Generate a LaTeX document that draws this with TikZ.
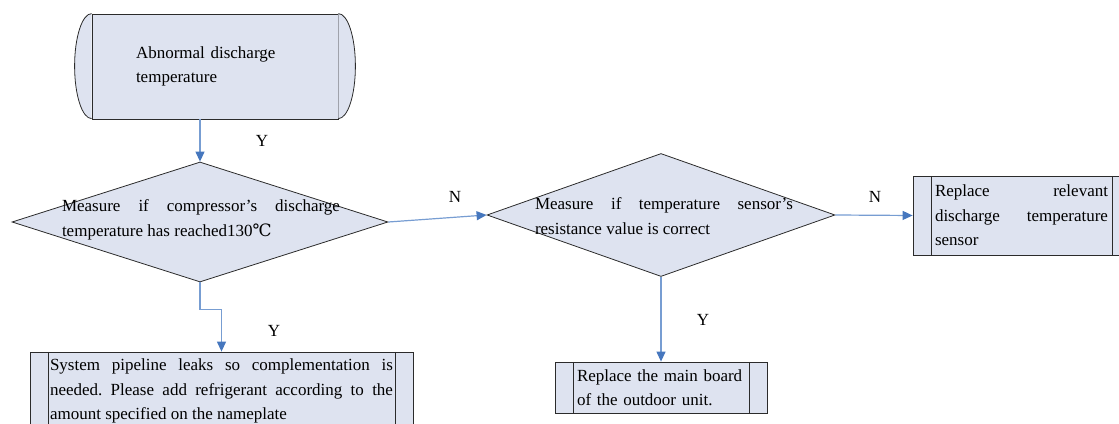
\documentclass[tikz,border=0pt]{standalone}
\usepackage{fontspec}
\setmainfont{Liberation Serif}
\newfontfamily\degfont{DejaVu Serif}
\usepackage{tikz}
\usetikzlibrary{arrows.meta,shapes.geometric}
\definecolor{boxfill}{HTML}{DEE3F0}
\definecolor{edgegray}{HTML}{2B2B2B}
\definecolor{flowline}{HTML}{779DD2}
\definecolor{flowtip}{HTML}{4677BE}
\newcommand{\flowfont}{\fontsize{17}{24.5}\selectfont\frenchspacing
    \hyphenpenalty=10000\exhyphenpenalty=10000\tolerance=9999}

\begin{document}
\begin{tikzpicture}[
    x=1pt, y=1pt,
    every node/.style={font=\flowfont},
    outline/.style={draw=edgegray, line width=0.8pt},
    startbox/.style={
        rectangle,
        outline,
        fill=boxfill,
        minimum width=246,
        minimum height=105,
        text width=158,
        inner xsep=44,
        align=left
    },
    decision/.style={
        diamond,
        outline,
        fill=boxfill,
        inner sep=0pt
    },
    dtext/.style={align=justify, inner sep=0pt},
    procbox/.style={
        rectangle,
        outline,
        fill=boxfill,
        inner ysep=0pt,
        align=justify,
        path picture={
            \draw[outline] ([xshift=18]path picture bounding box.north west) -- ([xshift=18]path picture bounding box.south west);
            \draw[outline] ([xshift=-18]path picture bounding box.north east) -- ([xshift=-18]path picture bounding box.south east);
        }
    },
    flow/.style={draw=flowline, line width=1.2pt,
        -{Triangle[length=10pt, width=9pt, color=flowtip, fill=flowtip]}},
    yn/.style={inner sep=0pt}
]
    \useasboundingbox (0,0) rectangle (1119,423);

    % === START ===
    \node[startbox] (start) at (215,356.5) {Abnormal discharge temperature};
    \draw[outline, fill=boxfill] (start.north west) arc[start angle=90, end angle=270, x radius=17, y radius=52.5];
    \draw[outline, fill=boxfill] (start.north east) arc[start angle=90, end angle=-90, x radius=17, y radius=52.5];

    % === FIRST CHECK ===
    \node[decision, minimum width=376, minimum height=120] (tempcheck) at (200,201) {};
    \node[dtext, text width=278] (temptext) at (201,203)
        {Measure if compressor’s discharge temperature has reached130{\degfont ℃}};

    % === SENSOR CHECK ===
    \node[decision, minimum width=348, minimum height=123] (sensorcheck) at (661,208) {};
    \node[dtext, text width=258] (sensortext) at (664,207)
        {Measure if temperature sensor’s resistance value is correct};

    % === ACTIONS ===
    \node[procbox, minimum width=217, minimum height=79, text width=173, inner xsep=22] (sensorbox) at (1021.5,207.5)
        {Replace relevant discharge temperature sensor};
    \node[procbox, minimum width=383, minimum height=78, text width=343, inner xsep=20] (leakbox) at (221.5,32)
        {System pipeline leaks so complementation is needed. Please add refrigerant according to the amount specified on the nameplate};
    \node[procbox, minimum width=212, minimum height=51, text width=168, inner xsep=22, align=left] (boardbox) at (661,35.5)
        {Replace the main board of the outdoor unit.};

    % Arrows
    \draw[flow] (start.south -| tempcheck.north) -- (tempcheck.north);
    \draw[flow] (tempcheck.east) -- (sensorcheck.west);
    \draw[flow] (sensorcheck.east) -- (sensorbox.west);
    \draw[flow] (tempcheck.south) -- ++(0,-27) -| (leakbox.north);
    \draw[flow] (sensorcheck.south) -- (boardbox.north);

    % Branch labels
    \node[yn] (yes1) at (262,282) {Y};
    \node[yn] (no1) at (455,226) {N};
    \node[yn] (no2) at (875,226) {N};
    \node[yn] (yes2) at (274,92) {Y};
    \node[yn] (yes3) at (703,103) {Y};
\end{tikzpicture}
\end{document}
